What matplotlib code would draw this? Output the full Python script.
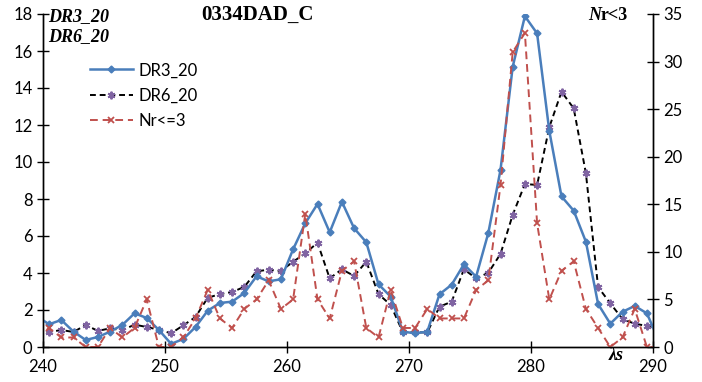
import numpy as np
import matplotlib
matplotlib.use("Agg")
import matplotlib.pyplot as plt

# wavelength positions of the samples (half-step grid, first and last fall just outside the axis)
wavelengths = np.arange(239.5, 290.6, 1.0)

dr3_20 = [1.65, 1.23, 1.46, 0.83, 0.38, 0.54, 0.83, 1.19, 1.82, 1.57,
          0.92, 0.17, 0.43, 1.08, 1.96, 2.38, 2.45, 2.92, 3.82, 3.55,
          3.66, 5.28, 6.69, 7.73, 6.20, 7.85, 6.42, 5.66, 3.39, 2.72,
          0.83, 0.74, 0.83, 2.85, 3.37, 4.47, 3.80, 6.16, 9.57, 15.15,
          17.88, 16.95, 11.68, 8.14, 7.37, 5.69, 2.32, 1.26, 1.90, 2.22,
          1.82, 0.30]

dr6_20 = [0.90, 0.80, 0.92, 0.81, 1.19, 0.87, 1.01, 0.90, 1.21, 1.08,
          0.93, 0.74, 1.17, 1.62, 2.66, 2.86, 2.97, 3.25, 4.09, 4.18,
          4.11, 4.61, 5.06, 5.64, 3.71, 4.20, 3.84, 4.61, 2.86, 2.27,
          0.79, 0.79, 0.79, 2.18, 2.45, 4.20, 3.71, 4.01, 5.03, 7.14,
          8.81, 8.76, 11.88, 13.80, 12.90, 9.39, 3.24, 2.36, 1.51, 1.26,
          1.14, 0.90]

nr_le3 = [1, 2, 1, 1, 0, 0, 2, 1, 2, 5,
          0, 0, 1, 3, 6, 3, 2, 4, 5, 7,
          4, 5, 14, 5, 3, 8, 9, 2, 1, 6,
          2, 2, 4, 3, 3, 3, 6, 7, 17, 31,
          33, 13, 5, 8, 9, 4, 2, 0, 1, 4,
          0, 0]

x_ticks = [240, 250, 260, 270, 280, 290]
left_ticks = [0, 2, 4, 6, 8, 10, 12, 14, 16, 18]
right_ticks = [0, 5, 10, 15, 20, 25, 30, 35]

BLUE = "#4A7EBB"
PURPLE = "#8064A2"
RED = "#C0504D"
TICK_FONT = "Lato"
SERIF = "Liberation Serif"

fig = plt.figure(figsize=(7.02, 3.82), dpi=100)
ax = fig.add_axes([43 / 702, 35 / 382, 610 / 702, 333 / 382])
ax2 = ax.twinx()

l1, = ax.plot(wavelengths, dr3_20, color=BLUE, lw=1.8, marker="D", ms=3.5,
              mfc=BLUE, mec=BLUE, label="DR3_20", zorder=3)
l2, = ax.plot(wavelengths, dr6_20, color="black", lw=1.4, ls=(0, (3, 2)),
              marker=(6, 2, 0), ms=5.5, mec=PURPLE, mew=1.4, label="DR6_20", zorder=2)
l3, = ax2.plot(wavelengths, nr_le3, color=RED, lw=1.4, ls=(0, (4, 2.5)),
               marker="x", ms=4.5, mec=RED, mew=1.3, label="Nr<=3")

ax.set_xlim(240, 290)
ax.set_ylim(0, 18)
ax2.set_ylim(0, 35)
ax.set_xticks(x_ticks)
ax.set_yticks(left_ticks)
ax2.set_yticks(right_ticks)

for a in (ax, ax2):
    a.spines["top"].set_visible(False)
    for s in a.spines.values():
        s.set_color("black")
        s.set_linewidth(1.0)
    a.tick_params(direction="inout", length=9, width=1.0, colors="black",
                  labelsize=12)
    for lab in a.get_xticklabels() + a.get_yticklabels():
        lab.set_fontfamily(TICK_FONT)
ax.tick_params(axis="x", pad=4)
ax.tick_params(axis="y", pad=3)
ax2.tick_params(axis="y", pad=3)

leg = ax.legend(handles=[l1, l2, l3], loc="upper left",
                bbox_to_anchor=(0.052, 0.90), frameon=False,
                prop={"family": TICK_FONT, "size": 12},
                handlelength=2.6, handletextpad=0.35, labelspacing=0.55)

fig.text(48 / 702, 1 - 17 / 382, "DR3_20", fontfamily=SERIF, fontweight="bold",
         fontstyle="italic", fontsize=13, ha="left", va="center")
fig.text(48 / 702, 1 - 37 / 382, "DR6_20", fontfamily=SERIF, fontweight="bold",
         fontstyle="italic", fontsize=13, ha="left", va="center")
fig.text(257 / 702, 1 - 15 / 382, "0334DAD_C", fontfamily=SERIF, fontweight="bold",
         fontsize=15, ha="center", va="center")
fig.text(588 / 702, 1 - 15 / 382, "N", fontfamily=SERIF, fontweight="bold",
         fontstyle="italic", fontsize=13, ha="left", va="center")
fig.text(601 / 702, 1 - 15 / 382, "r<3", fontfamily=SERIF, fontweight="bold",
         fontsize=13, ha="left", va="center")
fig.text(616 / 702, 1 - 355 / 382, "λs", fontfamily=SERIF, fontweight="bold",
         fontstyle="italic", fontsize=13, ha="center", va="center")

fig.savefig("out.png", dpi=100)
